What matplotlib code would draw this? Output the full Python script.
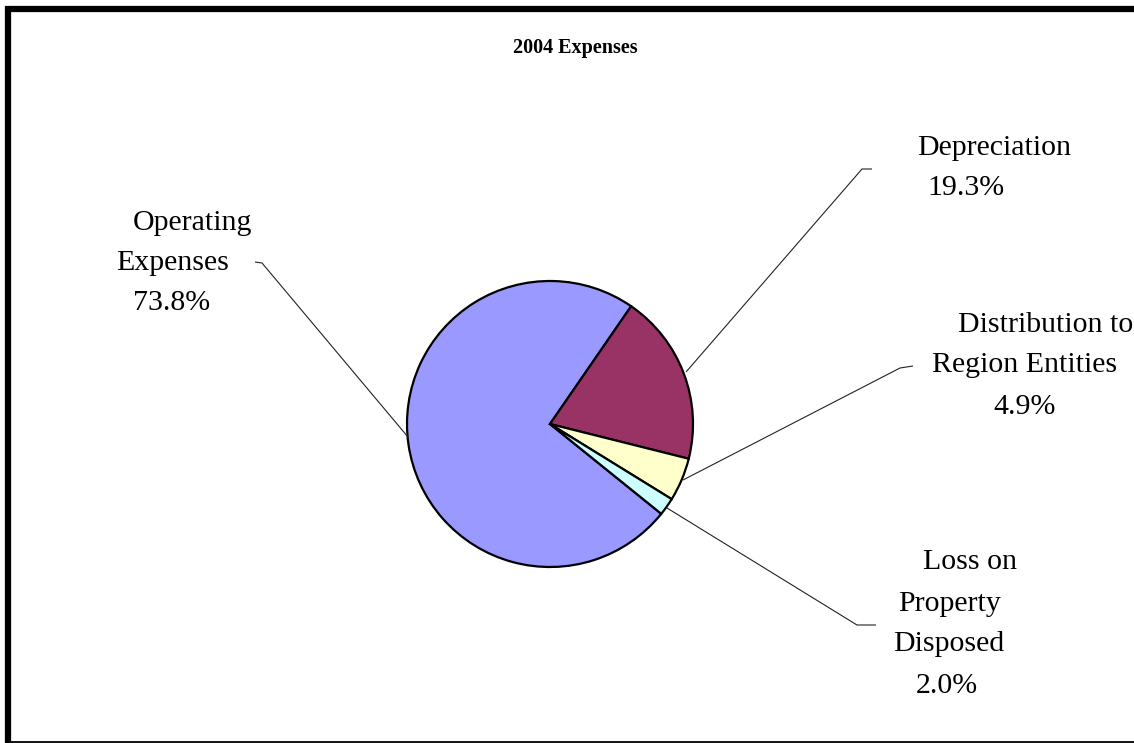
import matplotlib
matplotlib.use("Agg")
import matplotlib.pyplot as plt
from matplotlib.lines import Line2D

# ---- data ----
categories = ["Operating Expenses", "Depreciation", "Distribution to Region Entities", "Loss on Property Disposed"]
values = [73.8, 19.3, 4.9, 2.0]
label_lines = [["Operating", "Expenses", "73.8%"],
               ["Depreciation", "19.3%"],
               ["Distribution to", "Region Entities", "4.9%"],
               ["Loss on", "Property", "Disposed", "2.0%"]]
colors = ["#9999FF", "#993366", "#FFFFCC", "#CCFFFF"]
title = "2004 Expenses"

W, H = 1134, 743
fig = plt.figure(figsize=(W / 100, H / 100), dpi=100)
ax = fig.add_axes([0, 0, 1, 1])

def Y(y):
    return H - y

cx, cy, r = 550, Y(424), 143
ax.pie(values, colors=colors, startangle=-38.9, counterclock=False,
       center=(cx, cy), radius=r,
       wedgeprops=dict(edgecolor="black", linewidth=1.6))
ax.set_xlim(0, W)
ax.set_ylim(0, H)
ax.set_aspect("auto")
ax.axis("off")

serif = ["Liberation Serif", "DejaVu Serif"]

# labels: (center x, list of line center y)
label_pos = [
    ([193, 173, 172], [223, 263, 303]),
    ([994, 966], [148, 188]),
    ([1046, 1025, 1025], [325, 365, 407]),
    ([970, 950, 949, 947], [562, 604, 644, 686]),
]
for lines, (xs, ys) in zip(label_lines, label_pos):
    for t, x, y in zip(lines, xs, ys):
        ax.text(x, Y(y), t, ha="center", va="center", fontsize=21.5,
                family=serif, color="black")

# leader lines (pixel layout)
leaders = [
    [(408, 437), (262, 263), (255, 262)],
    [(686, 372), (862, 169), (872, 169)],
    [(683, 480), (900, 368), (913, 366)],
    [(667, 508), (857, 625), (876, 625)],
]
for pts in leaders:
    ax.plot([p[0] for p in pts], [Y(p[1]) for p in pts], color="#222222",
            linewidth=0.8, solid_capstyle="butt")

ax.text(575, Y(48), title, ha="center", va="center", fontsize=14.5,
        fontweight="bold", family=serif)

# outer frame (top/left thick, bottom thin)
ax.add_line(Line2D([5, W], [Y(9), Y(9)], color="black", linewidth=4.5, solid_capstyle="butt"))
ax.add_line(Line2D([8, 8], [Y(6), 0], color="black", linewidth=4.5, solid_capstyle="butt"))
ax.add_line(Line2D([5, W], [Y(742), Y(742)], color="black", linewidth=1.3, solid_capstyle="butt"))

fig.savefig("out.png", dpi=100, facecolor="white")
